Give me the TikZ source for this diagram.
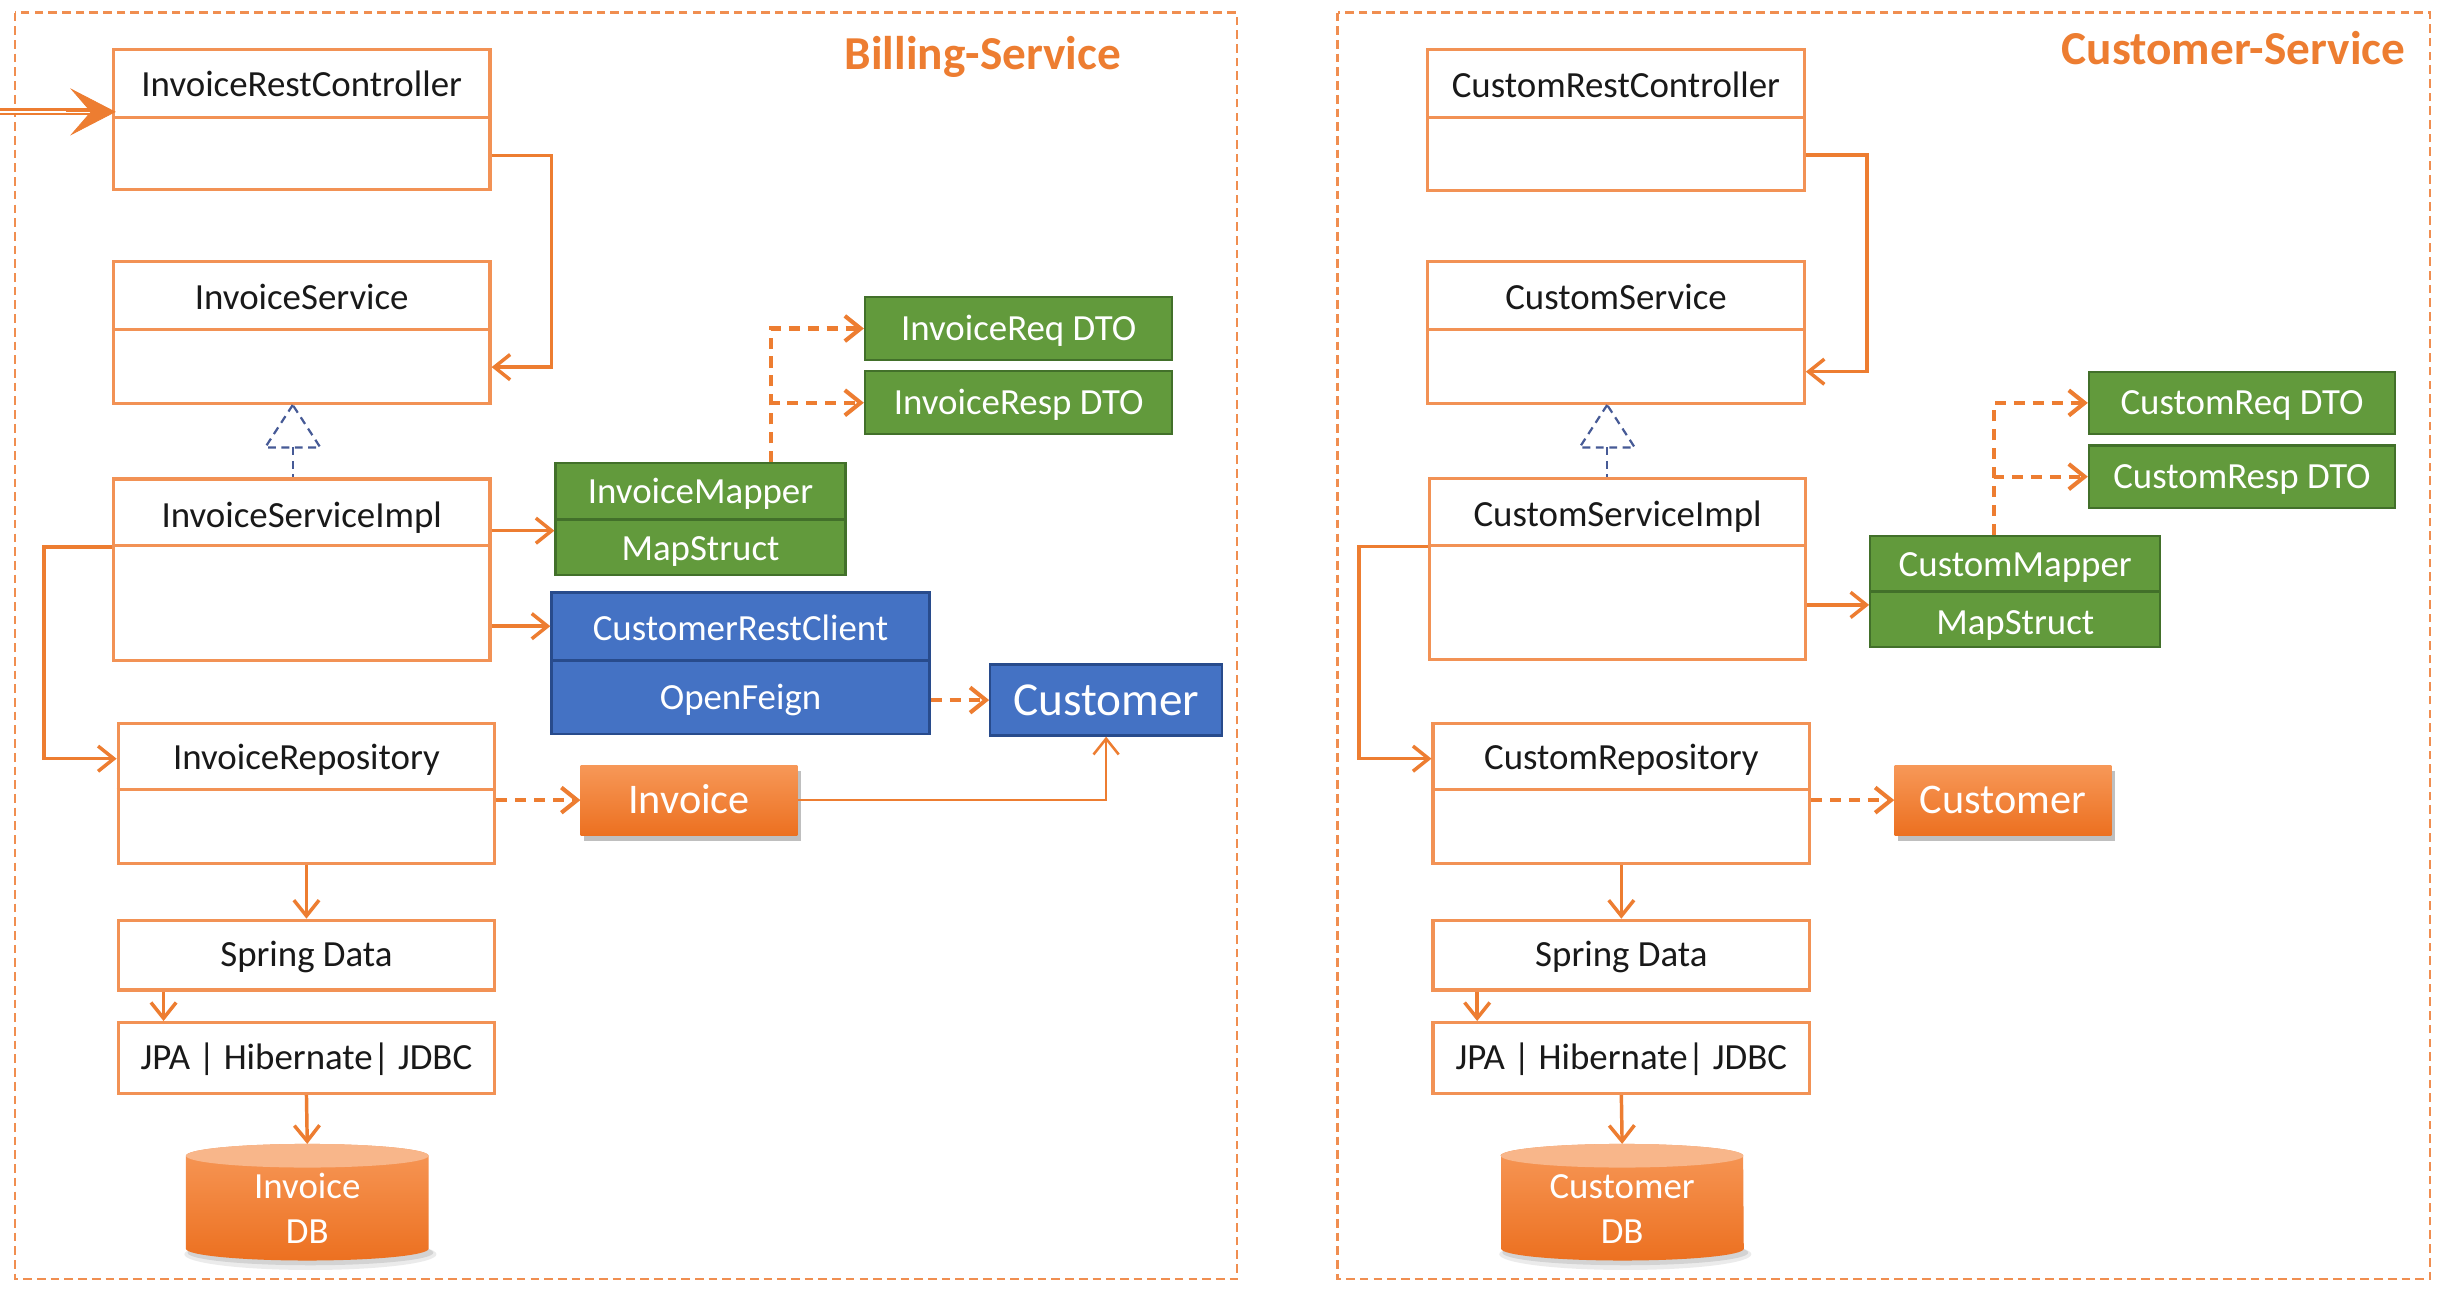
\documentclass[tikz,border=0pt]{standalone}
\usepackage{fontspec}
\setmainfont{Carlito}
\usetikzlibrary{arrows.meta,shadows}
\definecolor{corange}{RGB}{237,125,49}
\definecolor{cborder}{RGB}{242,146,85}
\definecolor{cframe}{RGB}{240,142,80}
\definecolor{cgreen}{RGB}{98,154,60}
\definecolor{cgreenb}{RGB}{66,112,42}
\definecolor{cblue}{RGB}{68,114,196}
\definecolor{cblueb}{RGB}{40,75,140}
\definecolor{creal}{RGB}{70,90,150}
\definecolor{ctext}{RGB}{25,25,25}
\definecolor{cotop}{RGB}{247,152,88}
\definecolor{cobot}{RGB}{236,112,32}
\definecolor{cdbface}{RGB}{248,182,138}
\newcommand{\mydbshape}[1]{%
  \fill[black, opacity=0.08] ([xshift=2pt,yshift=4pt]#1.south) ellipse [x radius=80pt, y radius=10pt];
  \fill[black, opacity=0.10] ([xshift=2pt,yshift=5pt]#1.south) ellipse [x radius=78pt, y radius=8pt];
  \shade[top color=cotop, bottom color=cobot]
    ([yshift=-7.5pt]#1.north west) -- ([yshift=7.5pt]#1.south west)
    arc[start angle=180, end angle=360, x radius=77pt, y radius=7.5pt]
    -- ([yshift=-7.5pt]#1.north east)
    arc[start angle=0, end angle=180, x radius=77pt, y radius=7.5pt] -- cycle;
  \fill[cdbface] ([yshift=-7.5pt]#1.north) ellipse [x radius=77pt, y radius=7.5pt];
}
\begin{document}
\begin{tikzpicture}[x=1pt,y=-1pt,
  txt/.style={font=\fontsize{23.4}{28}\selectfont, text=ctext, text height=15pt, text depth=0pt, inner sep=0pt},
  wtxt/.style={txt, text=white},
  cls/.style={draw=cborder, line width=2pt, fill=white, minimum width=239pt, inner sep=0pt},
  clsline/.style={draw=cborder, line width=2pt},
  gbox/.style={draw=cgreenb, line width=1.5pt, fill=cgreen, inner sep=0pt},
  bbox/.style={draw=cblueb, line width=1.5pt, fill=cblue, inner sep=0pt},
  obox/.style={inner sep=0pt, top color=cotop, bottom color=cobot, text=white,
     font=\fontsize{26.8}{32}\selectfont, text height=17.3pt, text depth=0pt,
     drop shadow={shadow xshift=2pt, shadow yshift=-4pt, opacity=0.25, fill=black}},
  dbnode/.style={draw=none, inner sep=0pt, outer sep=0pt, minimum width=154pt, minimum height=74pt},
  arr/.style={draw=corange, line width=2.2pt, -{Straight Barb[length=10pt,width=16pt]}},
  darr/.style={arr, dash pattern=on 7pt off 5pt, line width=2.6pt},
  real/.style={draw=creal, line width=1.4pt, dash pattern=on 5pt off 3.5pt},
  frame/.style={draw=cframe, line width=1.6pt, dash pattern=on 5.5pt off 3.2pt},
  title/.style={font=\bfseries\fontsize{30}{36}\selectfont, text=corange, text height=19.3pt, text depth=0pt, inner sep=0pt},
]
\fill[white] (0,0) rectangle (1560,822.5);
\useasboundingbox (0,0) rectangle (1560,822.5);

% frames
\draw[frame] (9.5,8) rectangle (785,811.8);
\draw[frame] (849,8) rectangle (1542.3,811.8);
\node[title] (bt) at (623.8,34.3) {Billing-Service};
\node[title] (ct) at (1417.5,31.2) {Customer-Service};

% ================= Billing service =================
\node[cls, minimum height=89pt] (irc) at (191.5,76) {};
\node[txt] (irct) at ([yshift=-23.5pt]irc.north) {InvoiceRestController};
\draw[clsline] ([yshift=-44pt]irc.north west) -- ([yshift=-44pt]irc.north east);

\node[cls, minimum height=90pt] (is) at (191.5,211) {};
\node[txt] (ist) at ([yshift=-24pt]is.north) {InvoiceService};
\draw[clsline] ([yshift=-44pt]is.north west) -- ([yshift=-44pt]is.north east);

\node[cls, minimum height=115pt] (isi) at (191.5,361.5) {};
\node[txt] (isit) at ([yshift=-24pt]isi.north) {InvoiceServiceImpl};
\draw[clsline] ([yshift=-43.3pt]isi.north west) -- ([yshift=-43.3pt]isi.north east);

\node[cls, minimum height=89pt] (irepo) at (194.5,503.5) {};
\node[txt] (irepot) at ([yshift=-23pt]irepo.north) {InvoiceRepository};
\draw[clsline] ([yshift=-43pt]irepo.north west) -- ([yshift=-43pt]irepo.north east);

\node[cls, txt, minimum height=44.3pt] (isd) at (194.5,606.2) {Spring Data};
\node[cls, txt, minimum height=45pt] (ijpa) at (194.5,671.5) {JPA | Hibernate| JDBC};

\node[dbnode] (idb) at (195,763) {};
\mydbshape{idb}
\node[wtxt] (idbt1) at ([yshift=10pt]idb.center) {Invoice};
\node[wtxt] (idbt2) at ([yshift=-19pt]idb.center) {DB};

\node[gbox, minimum width=184pt, minimum height=71pt] (imap) at (444.6,329.5) {};
\draw[cgreenb, line width=1.8pt] (imap.west) -- (imap.east);
\node[wtxt] (imapt) at ([yshift=17.5pt]imap.center) {InvoiceMapper};
\node[wtxt] (imaps) at ([yshift=-18.5pt]imap.center) {MapStruct};

\node[gbox, wtxt, minimum width=195pt, minimum height=40pt] (ireq) at (646.5,208.5) {InvoiceReq DTO};
\node[gbox, wtxt, minimum width=195pt, minimum height=40pt] (iresp) at (646.5,255.6) {InvoiceResp DTO};

\node[bbox, minimum width=240pt, minimum height=90pt] (icrc) at (470,421) {};
\draw[cblueb, line width=1.6pt] ([yshift=-44pt]icrc.north west) -- ([yshift=-44pt]icrc.north east);
\node[wtxt] (icrct) at ([yshift=-24pt]icrc.north) {CustomerRestClient};
\node[wtxt] (icrcf) at ([yshift=-67.5pt]icrc.north) {OpenFeign};

\node[bbox, text=white, font=\fontsize{30}{36}\selectfont, text height=19.3pt, text depth=0pt,
      minimum width=147pt, minimum height=45pt] (icust) at (702,444.3) {Customer};
\node[obox, minimum width=137.5pt, minimum height=44.5pt] (iinv) at (437.3,507.8) {Invoice};

% connectors billing
\coordinate (src) at (0,71);
\draw[corange, line width=1.4pt, double=white, double distance=1.6pt] (src) -- ([xshift=-12pt]irc.west |- src);
\draw[corange, line width=0.5pt, fill=corange, -{Stealth[length=29pt,width=30pt,inset=13pt]}]
  ([xshift=-29pt]irc.west |- src) -- ([xshift=2.5pt]irc.west |- src);

\draw[arr] ([yshift=-22.7pt]irc.east) -- ++(38,0) |- ([yshift=-22pt]is.east);
\draw[real] ([xshift=-5.7pt]is.south) -- ++(-17.5,27) -- ++(35,0) -- cycle;
\draw[real] ([xshift=-5.7pt,yshift=-27pt]is.south) -- ([xshift=-5.7pt]isi.north);
\draw[arr] ([yshift=24.7pt]isi.east) -- ([yshift=24.7pt]isi.east -| imap.west);
\draw[arr] ([yshift=-35.9pt]isi.east) -- ([yshift=-35.9pt]isi.east -| icrc.west);
\draw[arr] ([yshift=14.2pt]isi.west) -- ++(-43,0) |- ([yshift=22pt]irepo.west);
\draw[darr] ([xshift=44.8pt]imap.north) |- (ireq.west);
\draw[darr] ([xshift=44.8pt]imap.north) |- (iresp.west);
\draw[darr] (icrc.east |- icust.west) -- (icust.west);
\draw[darr] (irepo.east |- iinv.west) -- (iinv.west);
\draw[arr, line width=1.6pt] (iinv.east) -| (icust.south);
\draw[arr] (irepo.south) -- (isd.north);
\draw[arr] ([xshift=-90.7pt]isd.south) -- ([xshift=-90.7pt]ijpa.north);
\draw[arr] (ijpa.south) -- (idb.north);

% ================= Customer service =================
\node[cls, minimum height=89.3pt] (crc) at (1025.6,76.3) {};
\node[txt] (crct) at ([yshift=-23.5pt]crc.north) {CustomRestController};
\draw[clsline] ([yshift=-44pt]crc.north west) -- ([yshift=-44pt]crc.north east);

\node[cls, minimum height=90.2pt] (cs) at (1025.6,210.9) {};
\node[txt] (cst) at ([yshift=-24pt]cs.north) {CustomService};
\draw[clsline] ([yshift=-44.2pt]cs.north west) -- ([yshift=-44.2pt]cs.north east);

\node[cls, minimum height=115pt] (csi) at (1026.6,361.2) {};
\node[txt] (csit) at ([yshift=-24pt]csi.north) {CustomServiceImpl};
\draw[clsline] ([yshift=-43.3pt]csi.north west) -- ([yshift=-43.3pt]csi.north east);

\node[cls, minimum height=89pt] (crepo) at (1029,503.5) {};
\node[txt] (crepot) at ([yshift=-23pt]crepo.north) {CustomRepository};
\draw[clsline] ([yshift=-43pt]crepo.north west) -- ([yshift=-43pt]crepo.north east);

\node[cls, txt, minimum height=44.3pt] (csd) at (1029,606.2) {Spring Data};
\node[cls, txt, minimum height=45pt] (cjpa) at (1029,671.5) {JPA | Hibernate| JDBC};

\node[dbnode, minimum width=153.6pt] (cdb) at (1029.5,763) {};
\mydbshape{cdb}
\node[wtxt] (cdbt1) at ([yshift=10pt]cdb.center) {Customer};
\node[wtxt] (cdbt2) at ([yshift=-19pt]cdb.center) {DB};

\node[gbox, minimum width=184pt, minimum height=70.8pt] (cmap) at (1279,375.4) {};
\draw[cgreenb, line width=1.8pt] (cmap.west) -- (cmap.east);
\node[wtxt] (cmapt) at ([yshift=17pt]cmap.center) {CustomMapper};
\node[wtxt] (cmaps) at ([yshift=-20pt]cmap.center) {MapStruct};

\node[gbox, wtxt, minimum width=194.2pt, minimum height=39.4pt] (creq) at (1422.9,255.7) {CustomReq DTO};
\node[gbox, wtxt, minimum width=194.2pt, minimum height=39.4pt] (cresp) at (1422.9,302.5) {CustomResp DTO};

\node[obox, minimum width=137.6pt, minimum height=44.4pt] (ccust) at (1271.2,507.8) {Customer};

% connectors customer
\draw[arr] ([yshift=-22pt]crc.east) -- ++(38.7,0) |- ([yshift=-25pt]cs.east);
\draw[real] ([xshift=-5.6pt]cs.south) -- ++(-17.5,27) -- ++(35,0) -- cycle;
\draw[real] ([xshift=-5.6pt,yshift=-27pt]cs.south) -- ([xshift=-6.6pt]csi.north);
\draw[arr] ([yshift=-22.7pt]csi.east) -- ([yshift=-22.7pt]csi.east -| cmap.west);
\draw[arr] ([yshift=14.2pt]csi.west) -- ++(-43.5,0) |- ([yshift=22pt]crepo.west);
\draw[darr] ([xshift=-13.3pt]cmap.north) |- (creq.west);
\draw[darr] ([xshift=-13.3pt]cmap.north) |- (cresp.west);
\draw[darr] (crepo.east |- ccust.west) -- (ccust.west);
\draw[arr] (crepo.south) -- (csd.north);
\draw[arr] ([xshift=-91.5pt]csd.south) -- ([xshift=-91.5pt]cjpa.north);
\draw[arr] (cjpa.south) -- (cdb.north);
\end{tikzpicture}
\end{document}
